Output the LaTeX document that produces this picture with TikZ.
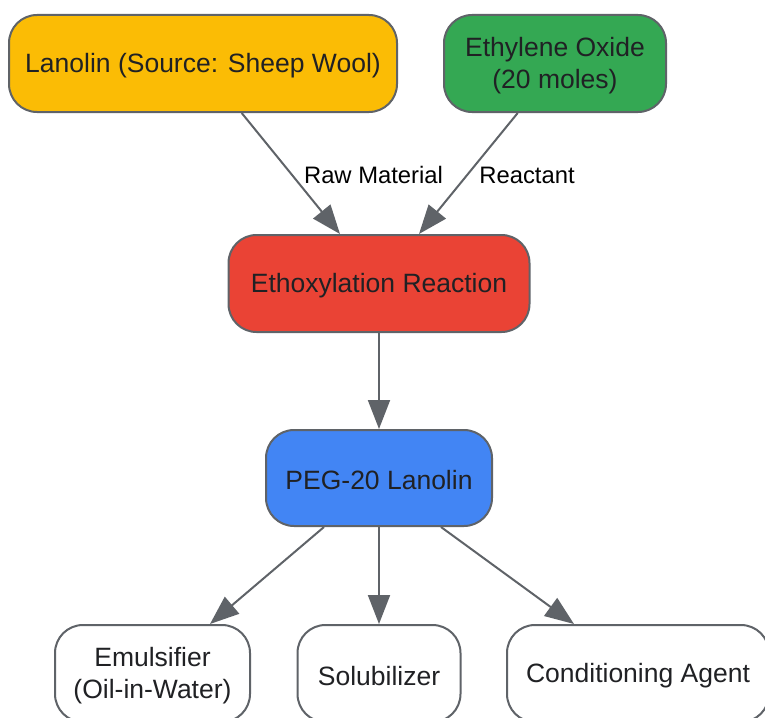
\documentclass[tikz,border=0pt]{standalone}
\usepackage{fontspec}
\setmainfont{Liberation Sans}
\usetikzlibrary{arrows.meta}
\definecolor{cyellow}{HTML}{FBBC05}
\definecolor{cgreen}{HTML}{34A853}
\definecolor{cred}{HTML}{EA4335}
\definecolor{cblue}{HTML}{4285F4}
\definecolor{cline}{HTML}{5F6368}
\definecolor{ctext}{HTML}{202124}
\begin{document}
\begin{tikzpicture}[x=1pt,y=-1pt,
  box/.style={draw=cline, line width=2pt, rounded corners=28pt, inner sep=0pt,
    minimum height=97pt},
  boxtext/.style={text=ctext, font=\fontsize{26.5}{32}\selectfont, align=center,
    inner sep=0pt, yshift=-2.5pt},
  arr/.style={draw=cline, line width=2pt, -{Triangle[length=29pt,width=22pt]}},
  lbl/.style={text=black, font=\fontsize{23.8}{28}\selectfont, inner sep=0pt}]
\path[use as bounding box, clip] (0,0) rectangle (765,717);
\node[box, fill=cyellow, minimum width=388pt,
  label={[boxtext]center:{Lanolin (Source: Sheep Wool)}}] (lan) at (203,63.5) {};
\node[box, fill=cgreen, minimum width=222pt,
  label={[boxtext]center:{Ethylene Oxide\\(20 moles)}}] (eo) at (555,63.5) {};
\node[box, fill=cred, minimum width=301pt,
  label={[boxtext]center:{Ethoxylation Reaction}}] (eth) at (379,283.5) {};
\node[box, fill=cblue, minimum width=226pt, minimum height=96pt,
  label={[boxtext]center:{PEG-20 Lanolin}}] (peg) at (379,478) {};
\node[box, fill=white, minimum width=195pt,
  label={[boxtext]center:{Emulsifier\\(Oil-in-Water)}}] (emu) at (152.5,673.5) {};
\node[box, fill=white, minimum width=163pt,
  label={[boxtext]center:{Solubilizer}}] (sol) at (379,673.5) {};
\node[box, fill=white, minimum width=262pt,
  label={[boxtext]center:{Conditioning Agent}}] (con) at (638,673.5) {};
\draw[arr] ([xshift=38.7pt]lan.south) -- ([xshift=-39pt]eth.north);
\draw[arr] ([xshift=-37.3pt]eo.south) -- ([xshift=40pt]eth.north);
\node[lbl] (l1) at (373.5,175) {Raw Material};
\node[lbl] (l2) at (527,175) {Reactant};
\draw[arr] (eth.south) -- (peg.north);
\draw[arr] ([xshift=-55pt]peg.south) -- ([xshift=57.5pt]emu.north);
\draw[arr] (peg.south) -- (sol.north);
\draw[arr] ([xshift=62pt]peg.south) -- ([xshift=-64pt]con.north);
\end{tikzpicture}
\end{document}
